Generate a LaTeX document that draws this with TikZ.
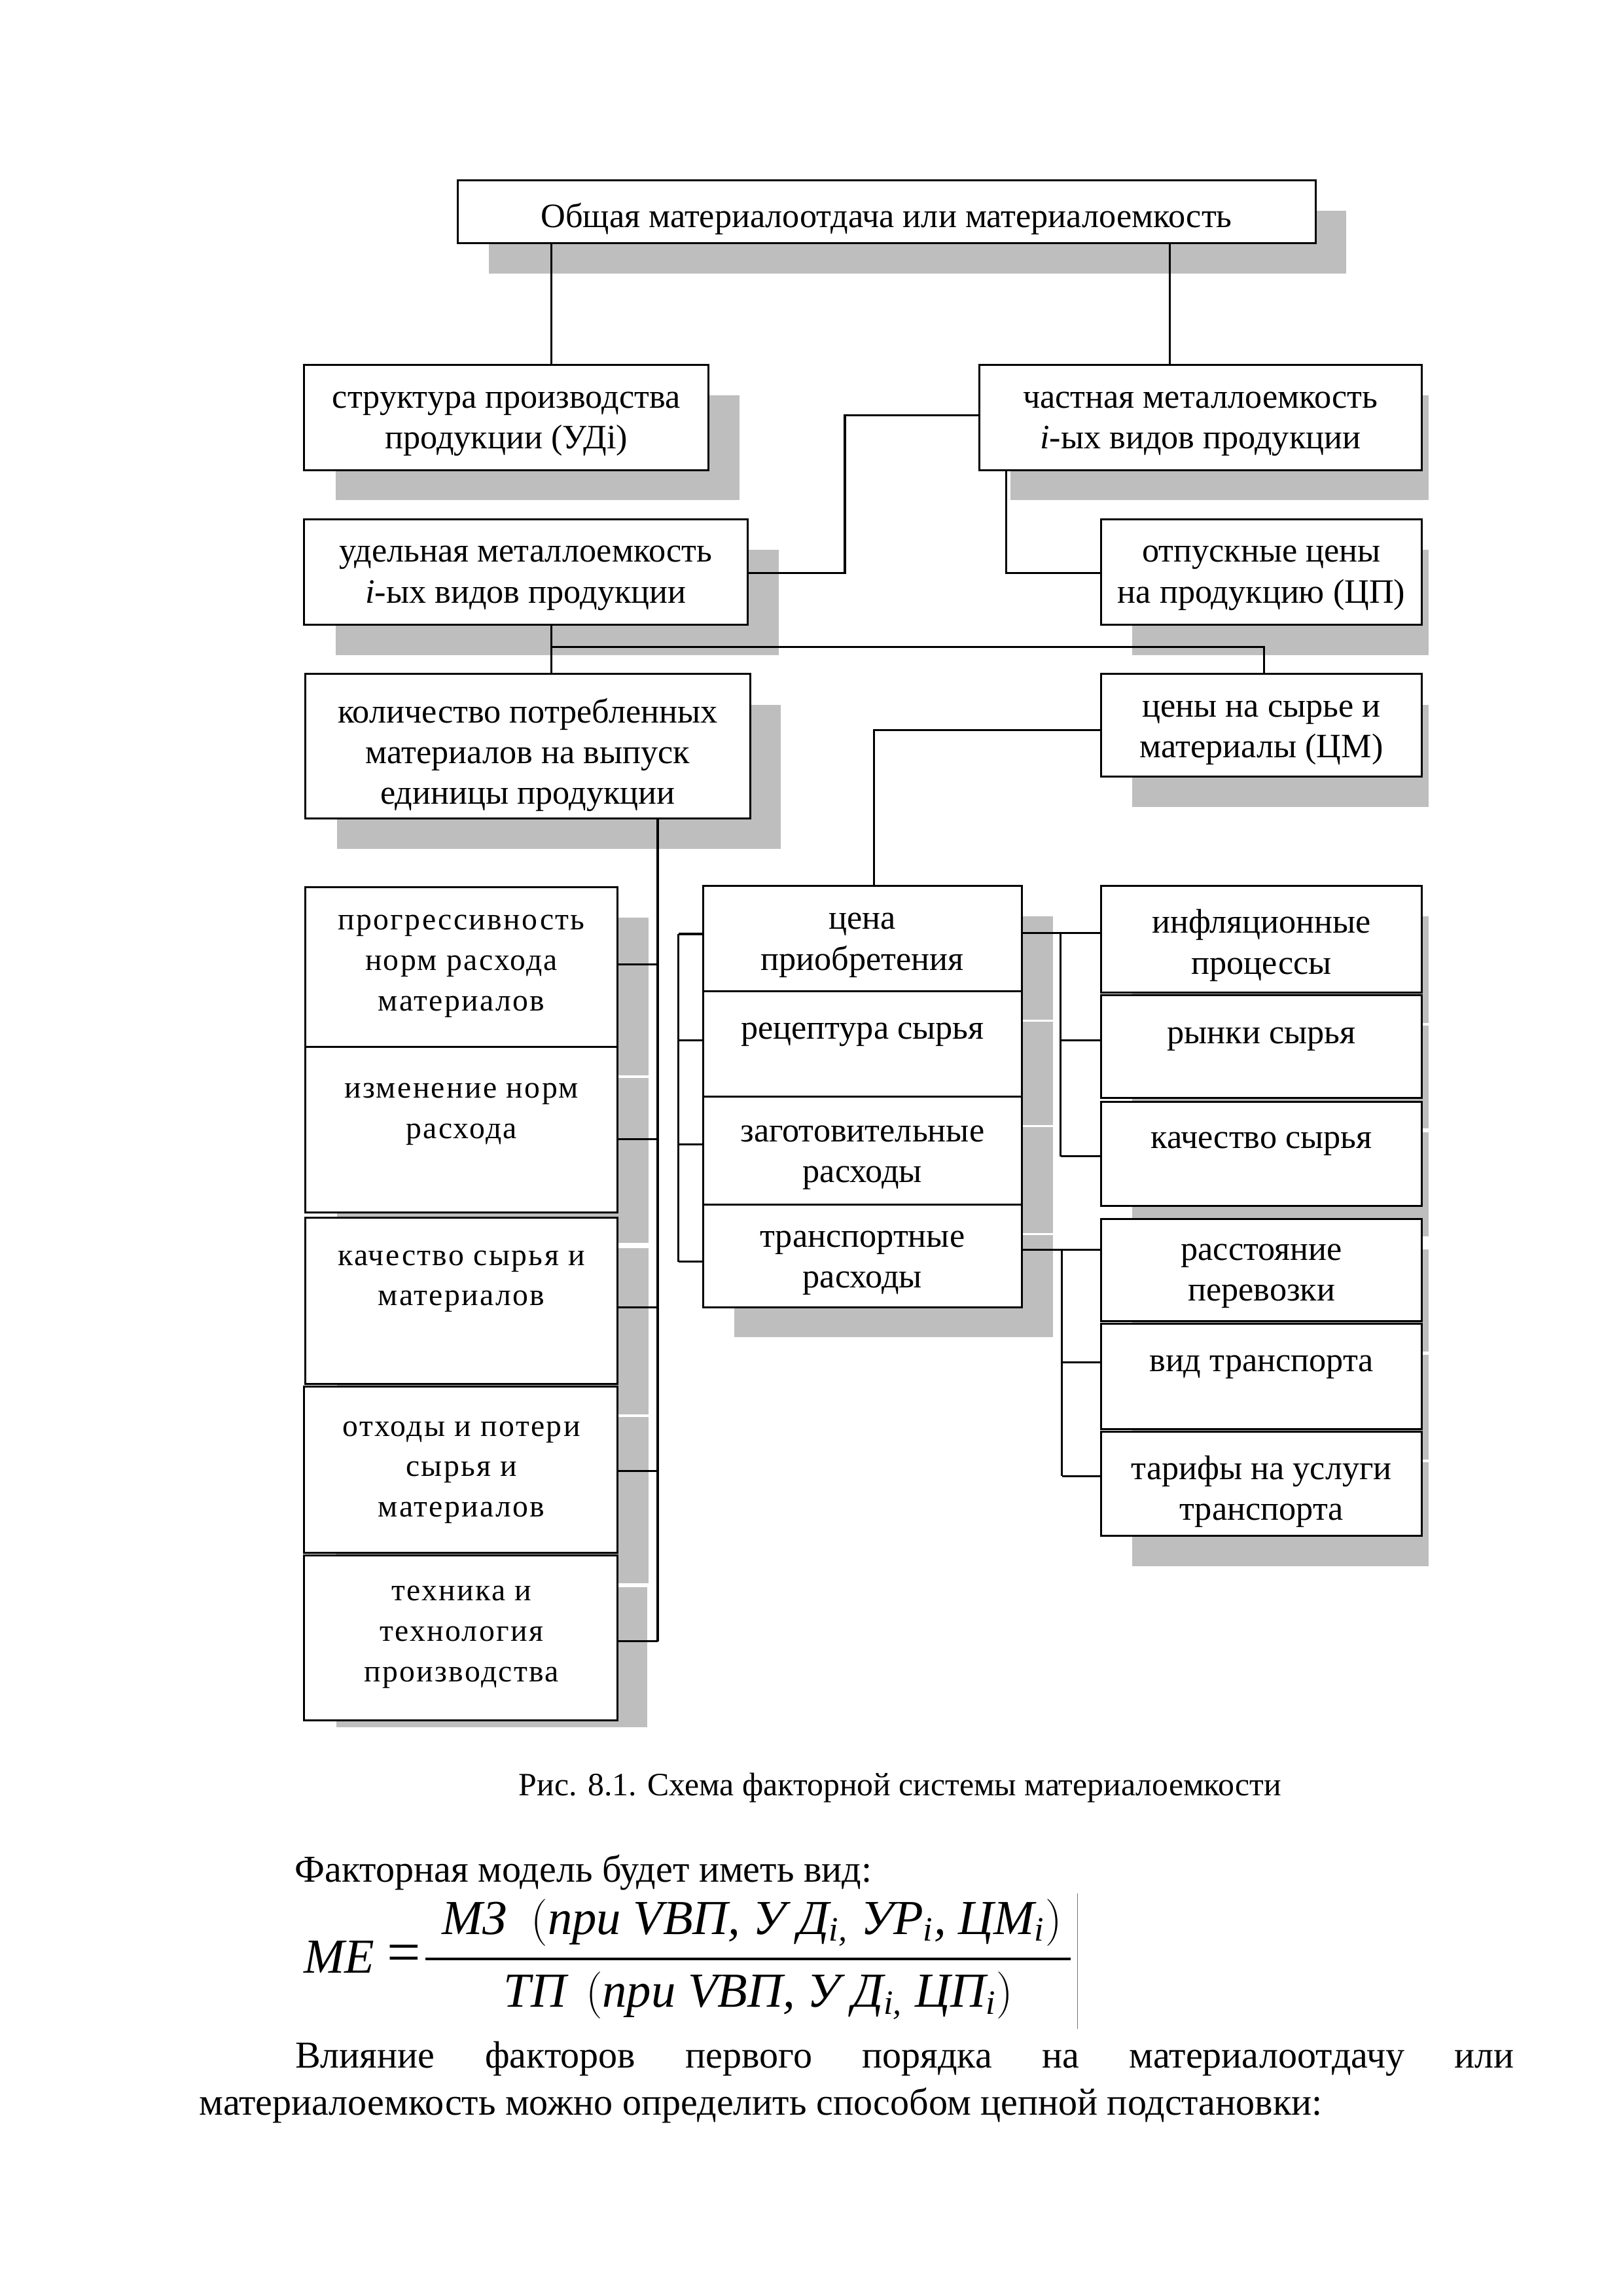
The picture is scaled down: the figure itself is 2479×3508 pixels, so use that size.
\documentclass[tikz,border=0pt]{standalone}
\usepackage{fontspec}
\setmainfont{Liberation Serif}
\newfontfamily\spacedfont[LetterSpace=5]{Liberation Serif}
\usetikzlibrary{calc,fit,backgrounds}
\definecolor{shadowgray}{RGB}{190,190,190}
\tikzset{
  box/.style={draw, line width=0.72pt, fill=white, inner sep=0pt},
  lbl/.style={align=center, inner sep=0pt, yshift=-2pt, font=\fontsize{12.6}{15}\selectfont},
  lbls/.style={align=center, inner sep=0pt, yshift=-2pt, font=\spacedfont\fontsize{11.5}{14.9}\selectfont},
  captext/.style={inner sep=0pt, font=\fontsize{12}{14}\selectfont},
  conn/.style={line width=0.75pt},
  shd/.style={fill=shadowgray, draw=white, line width=0.8pt},
  body/.style={inner sep=0pt, anchor=west, font=\fontsize{14}{17.3}\selectfont},
}
\newcommand\mkbox[5]{\node[box, fit={(#2,#3) (#4,#5)}] (#1) {};}
\newcommand\shadowof[1]{\path[shd] ($(#1.north west)+(48,47)$) rectangle ($(#1.south east)+(48,47)$);}
\begin{document}
\begin{tikzpicture}[x=0.084711mm, y=-0.084711mm]
\useasboundingbox (0,0) rectangle (2479,3508);
\begin{scope}[shift={(2,1)}, scale=0.9931]

% ---------- boxes ----------
\mkbox{top}{702}{276}{2022}{373}
\mkbox{strukt}{466}{560}{1088}{722}
\mkbox{chast}{1505}{560}{2186}{722}
\mkbox{udel}{466}{798}{1148}{960}
\mkbox{otpusk}{1692}{798}{2186}{960}
\mkbox{kolvo}{468}{1036}{1152}{1258}
\mkbox{ceny}{1692}{1036}{2186}{1194}
% left column
\mkbox{l1}{468}{1364}{948}{1610}
\mkbox{l2}{468}{1610}{948}{1864}
\mkbox{l3}{468}{1872}{948}{2128}
\mkbox{l4}{466}{2132}{948}{2388}
\mkbox{l5}{466}{2392}{948}{2646}
% middle column
\mkbox{m1}{1080}{1362}{1570}{1524}
\mkbox{m2}{1080}{1524}{1570}{1686}
\mkbox{m3}{1080}{1686}{1570}{1852}
\mkbox{m4}{1080}{1852}{1570}{2010}
% right column
\mkbox{r1}{1692}{1362}{2186}{1526}
\mkbox{r2}{1692}{1530}{2186}{1688}
\mkbox{r3}{1692}{1694}{2186}{1854}
\mkbox{r4}{1692}{1874}{2186}{2032}
\mkbox{r5}{1692}{2036}{2186}{2198}
\mkbox{r6}{1692}{2202}{2186}{2362}

% ---------- shadows ----------
\begin{pgfonlayer}{background}
  \fill[white] (-10,-10) rectangle (2500,3540);
  \begin{scope}
    \clip (0,0) rectangle (2196,3508);
    \foreach \b in {top,strukt,chast,udel,otpusk,kolvo,ceny,l1,l2,l3,l4,m1,m2,m3,m4,r1,r2,r3,r4,r5,r6} {\shadowof{\b}}
    \path[shd] (514,2439) rectangle (996,2658);
  \end{scope}
\end{pgfonlayer}

% ---------- labels ----------
\node[lbl] (ttop) at (1362,327) {Общая материалоотдача или материалоемкость};
\node[lbl] (tstrukt) at (777,643) {структура производства\\продукции (УДі)};
\node[lbl] (tchast) at (1845,643) {частная металлоемкость\\\textit{i}-ых видов продукции};
\node[lbl] (tudel) at (807,880) {удельная металлоемкость\\\textit{i}-ых видов продукции};
\node[lbl] (totpusk) at (1939,880) {отпускные цены\\на продукцию (ЦП)};
\node[lbl] (tkolvo) at (810,1152) {количество потребленных\\материалов на выпуск\\единицы продукции};
\node[lbl] (tceny) at (1939,1118) {цены на сырье и\\материалы (ЦМ)};
\node[lbls] (tl1) at (708,1477) {прогрессивность\\норм расхода\\материалов};
\node[lbls] (tl2) at (708,1705) {изменение норм\\расхода};
\node[lbls] (tl3) at (708,1962) {качество сырья и\\материалов};
\node[lbls] (tl4) at (708,2256) {отходы и потери\\сырья и\\материалов};
\node[lbls] (tl5) at (708,2509) {техника и\\технология\\производства};
\node[lbl] (tm1) at (1325,1445) {цена\\приобретения};
\node[lbl] (tm2) at (1325,1582) {рецептура сырья};
\node[lbl] (tm3) at (1325,1772) {заготовительные\\расходы};
\node[lbl] (tm4) at (1325,1934) {транспортные\\расходы};
\node[lbl] (tr1) at (1939,1445) {инфляционные\\процессы};
\node[lbl] (tr2) at (1939,1589) {рынки сырья};
\node[lbl] (tr3) at (1939,1751) {качество сырья};
\node[lbl] (tr4) at (1939,1954) {расстояние\\перевозки};
\node[lbl] (tr5) at (1939,2094) {вид транспорта};
\node[lbl] (tr6) at (1939,2285) {тарифы на услуги\\транспорта};

% ---------- connector coordinates ----------
\coordinate (xA) at (846,0);
\coordinate (xB) at (1798,0);
\coordinate (xC) at (1298,0);
\coordinate (xD) at (1546,0);
\coordinate (xE) at (1943,0);
\coordinate (xF) at (1343,0);
\coordinate (yA) at (0,638);
\coordinate (yB) at (0,881);
\coordinate (yD) at (0,1122);
\coordinate (busL) at (846,994);

% ---------- connectors ----------
\draw[conn] (top.south -| xA) -- (strukt.north -| xA);
\draw[conn] (top.south -| xB) -- (chast.north -| xB);
\draw[conn] (chast.west |- yA) -| (xC |- yB) -- (udel.east |- yB);
\draw[conn] (chast.south -| xD) |- (otpusk.west |- yB);
\draw[conn] (udel.south -| xA) -- (kolvo.north -| xA);
\draw[conn] (busL) -| (ceny.north -| xE);
\draw[conn] (ceny.west |- yD) -| (m1.north -| xF);

% left column bus
\coordinate (tkl1) at (1010,1483);
\coordinate (tkl2) at (1010,1752);
\coordinate (tkl3) at (1010,2010);
\coordinate (tkl4) at (1010,2262);
\coordinate (tkl5) at (1010,2524);
\draw[conn] (kolvo.south -| tkl5) -- (tkl5);
\foreach \n in {l1,l2,l3,l4,l5} {\draw[conn] (\n.east |- tk\n) -- (tk\n);}

% middle column bracket
\coordinate (tkm1) at (1042,1436);
\coordinate (tkm2) at (1042,1600);
\coordinate (tkm3) at (1042,1760);
\coordinate (tkm4) at (1042,1940);
\draw[conn] (tkm1) -- (tkm4);
\foreach \n in {m1,m2,m3,m4} {\draw[conn] (tk\n) -- (\n.west |- tk\n);}

% right bracket 1
\coordinate (tkr1) at (1630,1434);
\coordinate (tkr2) at (1630,1600);
\coordinate (tkr3) at (1630,1778);
\draw[conn] (m1.east |- tkr1) -- (r1.west |- tkr1);
\draw[conn] (tkr1) -- (tkr3);
\foreach \n in {r2,r3} {\draw[conn] (tk\n) -- (\n.west |- tk\n);}

% right bracket 2
\coordinate (tkr4) at (1632,1922);
\coordinate (tkr5) at (1632,2095);
\coordinate (tkr6) at (1632,2270);
\draw[conn] (m4.east |- tkr4) -- (r4.west |- tkr4);
\draw[conn] (tkr4) -- (tkr6);
\foreach \n in {r5,r6} {\draw[conn] (tk\n) -- (\n.west |- tk\n);}

% ---------- caption ----------
\node[captext] (caption) at (1383,2749) {Рис. 8.1. Схема факторной системы материалоемкости};

% ---------- body text ----------
\node[body] (intro) at (451,2880) {Факторная модель будет иметь вид:};

\node[inner sep=0pt, font=\fontsize{18}{20}\selectfont\itshape] (me) at (520,3010) {МЕ};
\node[inner sep=0pt, font=\fontsize{22}{24}\selectfont] (eq) at (620,3012) {=};
\node[inner sep=0pt, font=\fontsize{18}{15}\selectfont\itshape] (num) at (1155,2957)
  {МЗ\hspace{0.5em}$\Bigl($при VВП, У Д\textsubscript{i,} УР\textsubscript{i}, ЦМ\textsubscript{i}$\Bigr)$};
\node[inner sep=0pt, font=\fontsize{18}{15}\selectfont\itshape] (den) at (1165,3069)
  {ТП\hspace{0.4em}$\Bigl($при VВП, У Д\textsubscript{i,} ЦП\textsubscript{i}$\Bigr)$};
\coordinate (barL) at (653,3013);
\coordinate (barR) at (1645,3013);
\draw[line width=1.1pt] (barL) -- (barR);
\coordinate (vl1) at (1656,2912);
\coordinate (vl2) at (1656,3121);
\draw[line width=0.3pt, black!55] (vl1) -- (vl2);

\node[body] (par1) at (304,3166) {\makebox[484.3pt][s]{\hspace*{35.3pt}Влияние\hfill факторов\hfill первого\hfill порядка\hfill на\hfill материалоотдачу\hfill или}};
\node[body] (par2) at (304,3238) {материалоемкость можно определить способом цепной подстановки:};
\end{scope}
\end{tikzpicture}
\end{document}
